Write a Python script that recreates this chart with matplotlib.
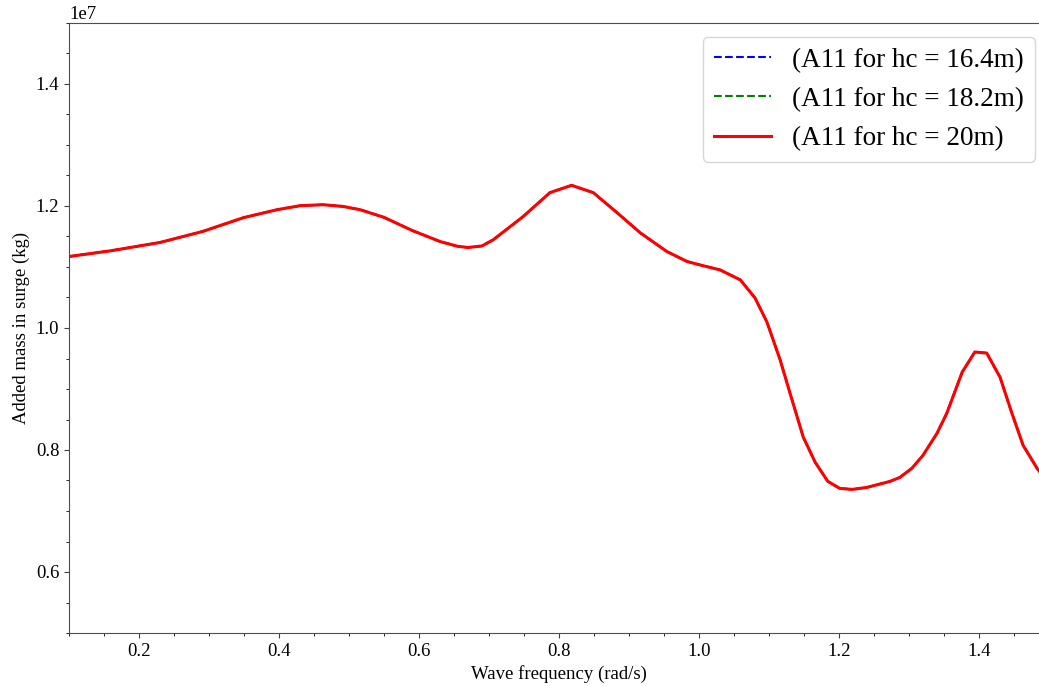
import numpy as np
import matplotlib
matplotlib.use("Agg")
import matplotlib.pyplot as plt

plt.rcParams['font.family'] = ['Liberation Serif', 'DejaVu Serif']

# wave frequency (rad/s)
omega = [0.100, 0.159, 0.230, 0.291, 0.349, 0.397, 0.430, 0.463, 0.491, 0.516,
         0.550, 0.590, 0.630, 0.655, 0.670, 0.690, 0.706, 0.749, 0.787, 0.818,
         0.849, 0.883, 0.916, 0.954, 0.983, 1.001, 1.030, 1.059, 1.080, 1.097,
         1.116, 1.130, 1.149, 1.166, 1.184, 1.201, 1.219, 1.240, 1.273, 1.287,
         1.304, 1.320, 1.340, 1.354, 1.376, 1.394, 1.411, 1.430, 1.447, 1.463,
         1.483, 1.500]

# added mass in surge (x 1e7 kg), same for all three hc values
a11 = [1.1172, 1.1265, 1.1402, 1.1583, 1.1808, 1.1939, 1.2005, 1.2021, 1.1994, 1.1939,
       1.1814, 1.1600, 1.1418, 1.1340, 1.1320, 1.1345, 1.1446, 1.1829, 1.2219, 1.2339,
       1.2219, 1.1890, 1.1561, 1.1254, 1.1090, 1.1035, 1.0953, 1.0789, 1.0493, 1.0099,
       0.9474, 0.8932, 0.8209, 0.7798, 0.7486, 0.7371, 0.7354, 0.7387, 0.7486, 0.7551,
       0.7699, 0.7913, 0.8274, 0.8603, 0.9277, 0.9606, 0.9589, 0.9195, 0.8603, 0.8077,
       0.7699, 0.7450]

labels = ['(A11 for hc = 16.4m)', '(A11 for hc = 18.2m)', '(A11 for hc = 20m)']

omega = np.array(omega)
a11 = np.array(a11) * 1e7

fig = plt.figure(figsize=(10.39, 6.86), dpi=100)
ax = fig.add_axes([69 / 1039, 1 - 633 / 686, 980 / 1039, 610 / 686])

ax.plot(omega, a11, '--', color='blue', linewidth=1.5, label=labels[0])
ax.plot(omega, a11, '--', color='green', linewidth=1.5, label=labels[1])
ax.plot(omega, a11, '-', color='red', linewidth=2.2, label=labels[2])

ax.set_xlim(0.1, 1.5)
ax.set_ylim(0.5e7, 1.5e7)
ax.minorticks_on()
ax.tick_params(labelsize=13.5, color='0.25')
for s in ax.spines.values():
    s.set_color('0.3')
ax.yaxis.get_offset_text().set_fontsize(13.5)

ax.set_xlabel('Wave frequency (rad/s)', fontsize=13.5)
ax.set_ylabel('Added mass in surge (kg)', fontsize=13.5)

ax.legend(loc='upper right', bbox_to_anchor=(1035 / 1039, 1 - 37 / 686),
          bbox_transform=fig.transFigure, borderaxespad=0,
          fontsize=19.5, handlelength=2.1, labelspacing=0.52)

fig.savefig('out.png', dpi=100)
